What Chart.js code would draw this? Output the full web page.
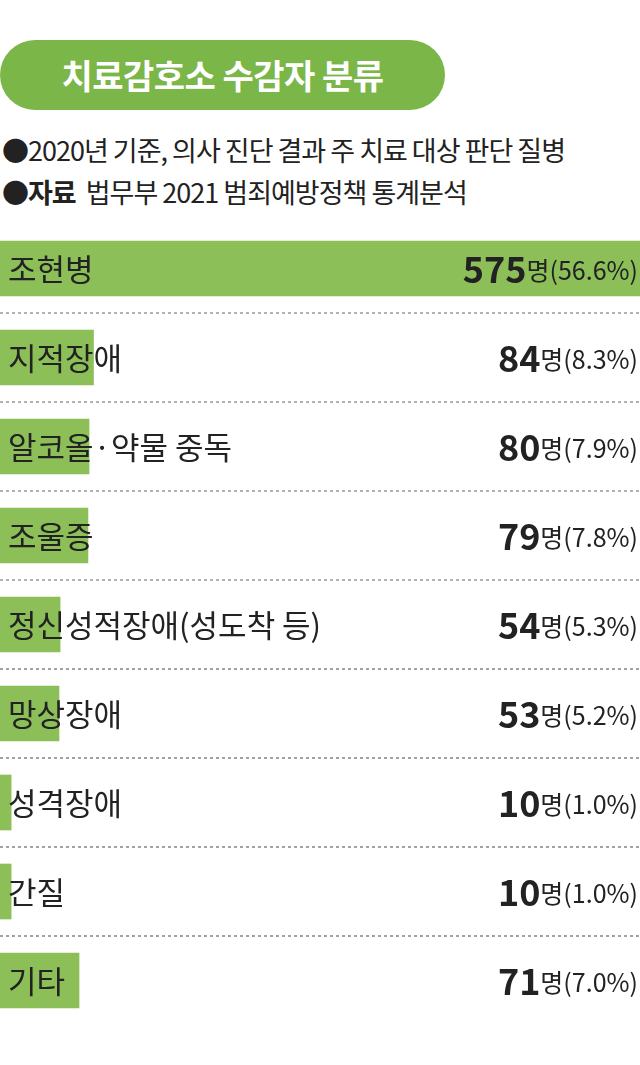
<!DOCTYPE html>
<html><head><meta charset="utf-8">
<script src="https://cdn.jsdelivr.net/npm/chart.js@4"></script>
<style>
body{margin:0;width:640px;height:1065px;background:#fff;font-family:"Noto Sans CJK KR","Noto Sans",sans-serif;position:relative;overflow:hidden}
#title{position:absolute;left:0;top:40px;width:445px;height:70px;background:#7ab648;border-radius:35px;color:#fff;font-size:34px;font-weight:bold;line-height:70px;text-align:center;letter-spacing:-0.5px}
.sub{position:absolute;left:2px;font-size:27px;color:#222;letter-spacing:-1px}
#wrap{position:absolute;left:0;top:224px;width:640px;height:801px}
</style></head><body>
<div id="title">치료감호소 수감자 분류</div>
<div class="sub" style="top:130px">●2020년 기준, 의사 진단 결과 주 치료 대상 판단 질병</div>
<div class="sub" style="top:172px">●<b>자료</b>&nbsp; 법무부 2021 범죄예방정책 통계분석</div>
<div id="wrap"><canvas id="c"></canvas></div>
<script>
const categories=["조현병","지적장애","알코올·약물 중독","조울증","정신성적장애(성도착 등)","망상장애","성격장애","간질","기타"];
const counts=[575,84,80,79,54,53,10,10,71];
const percents=["56.6%","8.3%","7.9%","7.8%","5.3%","5.2%","1.0%","1.0%","7.0%"];
const labelPlugin={id:'lbl',afterDatasetsDraw(ch){
 const ctx=ch.ctx,ys=ch.scales.y;
 ctx.save();
 categories.forEach((c,i)=>{
  const y=ys.getPixelForValue(i);
  ctx.textBaseline='middle';ctx.textAlign='left';ctx.fillStyle='#222';
  ctx.font='31px "Noto Sans CJK KR"';ctx.fillText(c,8,y+1);
  ctx.textAlign='right';
  ctx.font='25px "Noto Sans CJK KR"';const t='명('+percents[i]+')';
  ctx.fillText(t,638,y+2);const w=ctx.measureText(t).width;
  ctx.font='bold 36px "Noto Sans CJK KR"';ctx.fillText(String(counts[i]),638-w,y+1);
  if(i<categories.length-1){
   const sy=y+44.5;ctx.strokeStyle='#666';ctx.lineWidth=1.2;ctx.setLineDash([3,3]);
   ctx.beginPath();ctx.moveTo(0,sy);ctx.lineTo(640,sy);ctx.stroke();
  }
 });
 ctx.restore();
}};
new Chart(document.getElementById('c'),{type:'bar',
 data:{labels:categories,datasets:[{data:counts,backgroundColor:'#8cbf58',barThickness:55}]},
 options:{indexAxis:'y',responsive:true,maintainAspectRatio:false,animation:false,
  layout:{padding:0},
  plugins:{legend:{display:false},tooltip:{enabled:false}},
  scales:{x:{display:false,min:0,max:575},y:{display:false}}},
 plugins:[labelPlugin]});
</script></body></html>
